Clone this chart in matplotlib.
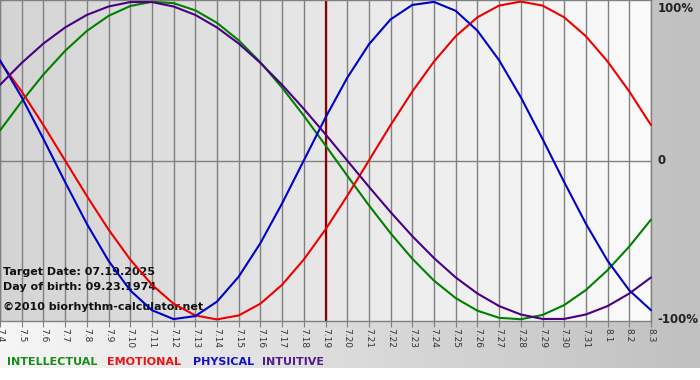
import numpy as np
import matplotlib
matplotlib.use('Agg')
import matplotlib.pyplot as plt
from matplotlib.colors import LinearSegmentedColormap

# Days shown on the x axis (month.day)
day_labels = ['7.4', '7.5', '7.6', '7.7', '7.8', '7.9', '7.10', '7.11', '7.12', '7.13',
              '7.14', '7.15', '7.16', '7.17', '7.18', '7.19', '7.20', '7.21', '7.22', '7.23',
              '7.24', '7.25', '7.26', '7.27', '7.28', '7.29', '7.30', '7.31', '8.1', '8.2', '8.3']
target_day = '7.19'

# Cycle values in percent, one per day
intellectual = [18.9, 37.2, 54.1, 69.0, 81.5, 91.0, 97.2, 99.9, 99.0, 94.5,
                86.6, 75.6, 61.8, 45.8, 28.2, 9.5, -9.5, -28.2, -45.8, -61.8,
                -75.6, -86.6, -94.5, -99.0, -99.9, -97.2, -91.0, -81.5, -69.0, -54.1, -37.2]
emotional = [62.3, 43.4, 22.3, 0.0, -22.3, -43.4, -62.3, -78.2, -90.1, -97.5,
             -100.0, -97.5, -90.1, -78.2, -62.3, -43.4, -22.3, 0.0, 22.3, 43.4,
             62.3, 78.2, 90.1, 97.5, 100.0, 97.5, 90.1, 78.2, 62.3, 43.4, 22.3]
physical = [63.1, 39.8, 13.6, -13.6, -39.8, -63.1, -81.7, -94.2, -99.8, -97.9,
            -88.8, -73.1, -52.0, -27.0, 0.0, 27.0, 52.0, 73.1, 88.8, 97.9,
            99.8, 94.2, 81.7, 63.1, 39.8, 13.6, -13.6, -39.8, -63.1, -81.7, -94.2]
intuitive = [47.6, 61.4, 73.6, 83.7, 91.6, 96.9, 99.7, 99.7, 96.9, 91.6,
             83.7, 73.6, 61.4, 47.6, 32.5, 16.5, 0.0, -16.5, -32.5, -47.6,
             -61.4, -73.6, -83.7, -91.6, -96.9, -99.7, -99.7, -96.9, -91.6, -83.7, -73.6]

series_names = ['INTELLECTUAL', 'EMOTIONAL', 'PHYSICAL', 'INTUITIVE']
line_colors = ['#008000', '#ee0000', '#0000cc', '#4b0082']
text_colors = ['#1a8c1a', '#ee1111', '#1111cc', '#551a8b']

info_lines = ['Target Date: 07.19.2025', 'Day of birth: 09.23.1974', '\u00a92010 biorhythm-calculator.net']
y_labels = ['100%', '0', '-100%']
y_values = [100, 0, -100]

W, H = 700, 380
fig = plt.figure(figsize=(7, 3.8), dpi=100)
fig.patch.set_facecolor('white')

# outer panel gradient (light left -> darker right)
bg = fig.add_axes([0, 0, 1, 1], zorder=0)
outer_cmap = LinearSegmentedColormap.from_list('outer', ['#f6f6f6', '#c0c0c0'])
bg.imshow(np.linspace(0, 1, 256).reshape(1, -1), cmap=outer_cmap, aspect='auto',
          extent=[0, W, 368, 0])
bg.set_xlim(0, W)
bg.set_ylim(H, 0)
bg.axis('off')

# main plot area
ax = fig.add_axes([0, 1 - 321 / H, 651 / W, 321 / H], zorder=1)
plot_cmap = LinearSegmentedColormap.from_list('plot', ['#d4d4d4', '#fbfbfb'])
x = np.arange(len(day_labels))
ax.imshow(np.linspace(0, 1, 256).reshape(1, -1), cmap=plot_cmap, aspect='auto',
          extent=[x[0], x[-1], -101, 101], zorder=0)

ax.set_xticks(x)
ax.set_xticklabels(day_labels)
ax.set_yticks([])
ax.grid(axis='x', color='#808080', lw=1, zorder=1)
ax.axhline(0, color='#808080', lw=1, zorder=1)
for s in ax.spines.values():
    s.set_color('#808080')
    s.set_linewidth(1)
ax.tick_params(axis='x', length=4, color='#808080', labelsize=6.5, labelrotation=-90,
               pad=1, labelcolor='#333333')

for i, txt in enumerate(info_lines):
    ax.text(0.004, [0.153, 0.107, 0.043][i], txt, transform=ax.transAxes, fontsize=8,
            fontweight='bold', color='#111111', va='center', ha='left', zorder=2)

ax.axvline(day_labels.index(target_day), color='#8b0000', lw=1.6, zorder=2)

for vals, col in zip([intellectual, emotional, physical, intuitive], line_colors):
    ax.plot(x, vals, color=col, lw=1.5, zorder=3, clip_on=False, solid_capstyle='round')

ax.set_xlim(x[0], x[-1])
ax.set_ylim(-101, 101)

# right-hand percent labels (top one nudged down so it stays inside the figure)
label_offsets = [-4.5, 0, 0]
for lab, v, off in zip(y_labels, y_values, label_offsets):
    ax.text(1.0105, v + off, lab, transform=ax.get_yaxis_transform(), fontsize=8.5,
            fontweight='bold', color='#222222', va='center', ha='left', clip_on=False)

# legend row at the bottom
legend_x = [7, 107, 193, 262]
for name, col, lx in zip(series_names, text_colors, legend_x):
    fig.text(lx / W, 1 - 362 / H, name, color=col, fontsize=8, fontweight='bold',
             va='center', ha='left')

fig.savefig('out.png', dpi=100)
